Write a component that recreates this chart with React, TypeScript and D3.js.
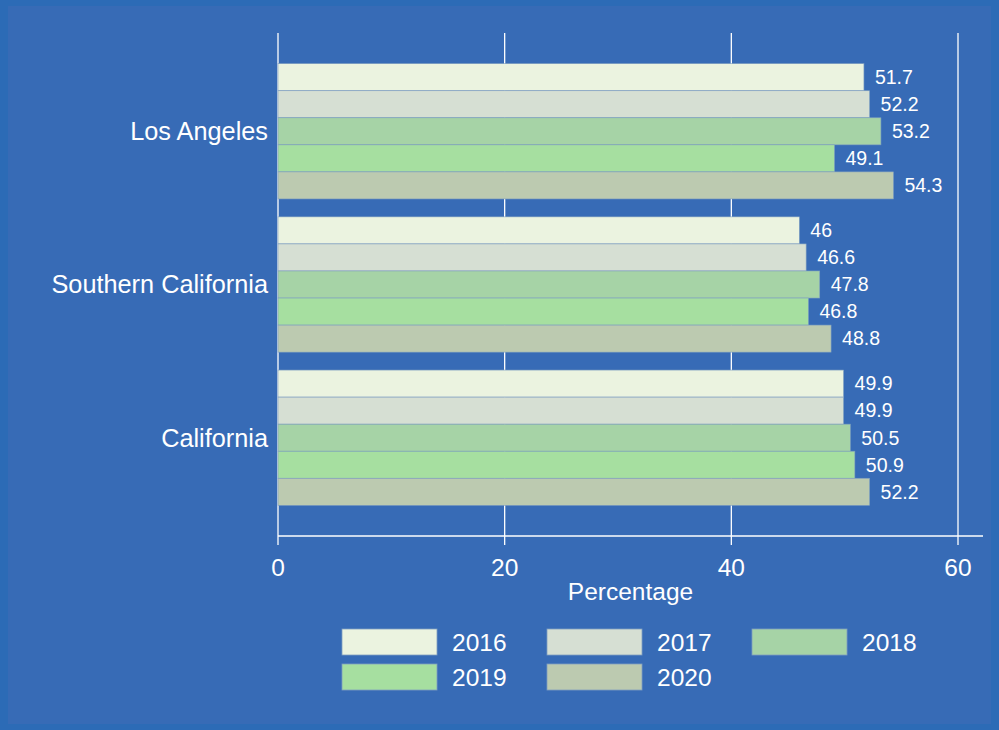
import React from "react";
import * as d3 from "d3";

const categories = ["Los Angeles", "Southern California", "California"];
const years = ["2016", "2017", "2018", "2019", "2020"];
const values: number[][] = [
  [51.7, 52.2, 53.2, 49.1, 54.3],
  [46, 46.6, 47.8, 46.8, 48.8],
  [49.9, 49.9, 50.5, 50.9, 52.2],
];
const colors = ["#ebf3e0", "#d6dfd3", "#a6d3a6", "#a6dfa0", "#bccab0"];
const xTicks = [0, 20, 40, 60];

export default function App() {
  const W = 999, H = 730;
  const left = 278, right = 983;
  const x = d3.scaleLinear().domain([0, 60]).range([278, 958]);
  const top = 33, bottom = 536;
  const y0 = d3.scaleBand().domain(categories).range([54.5, 514.5]).paddingInner(0.117).paddingOuter(0.06);
  const y1 = d3.scaleBand().domain(years).range([0, y0.bandwidth()]);
  const font = "'Liberation Sans', Arial, sans-serif";
  return (
    <svg width={W} height={H} style={{ position: "absolute", left: 0, top: 0 }} fontFamily={font}>
      <rect x={0} y={0} width={W} height={H} fill="#2c6bb6" />
      <rect x={8} y={6} width={W - 16} height={H - 12} fill="#376bb6" />
      {xTicks.map((t) => (
        <g key={t}>
          <line x1={x(t)} x2={x(t)} y1={top} y2={545} stroke="#fff" strokeWidth={1.3} />
          <text x={x(t)} y={576} fill="#fff" fontSize={24.5} textAnchor="middle">{t}</text>
        </g>
      ))}
      <line x1={left} x2={right} y1={bottom} y2={bottom} stroke="#fff" strokeWidth={1.3} />
      <text x={(left + right) / 2} y={600} fill="#fff" fontSize={24.5} textAnchor="middle">Percentage</text>
      {categories.map((c, ci) => (
        <g key={c} transform={`translate(0,${y0(c)})`}>
          <text x={268} y={y0.bandwidth() / 2} dy="0.35em" fill="#fff" fontSize={25.3} textAnchor="end">{c}</text>
          {years.map((yr, yi) => {
            const v = values[ci][yi];
            const yy = y1(yr)!;
            return (
              <g key={yr}>
                <rect x={x(0)} y={yy} width={x(v) - x(0)} height={y1.bandwidth()} fill={colors[yi]} stroke="#7f9fc0" strokeWidth={0.6} />
                <text x={x(v) + 11} y={yy + y1.bandwidth() / 2} dy="0.35em" fill="#fff" fontSize={19.5}>{v}</text>
              </g>
            );
          })}
        </g>
      ))}
      {years.map((yr, i) => {
        const col = i % 3, row = Math.floor(i / 3);
        const lx = 342 + col * 205, ly = 629 + row * 35;
        return (
          <g key={yr}>
            <rect x={lx} y={ly} width={95} height={26} fill={colors[i]} stroke="#7f9fc0" strokeWidth={0.8} />
            <text x={lx + 110} y={ly + 13} dy="0.36em" fill="#fff" fontSize={24.5}>{yr}</text>
          </g>
        );
      })}
    </svg>
  );
}
